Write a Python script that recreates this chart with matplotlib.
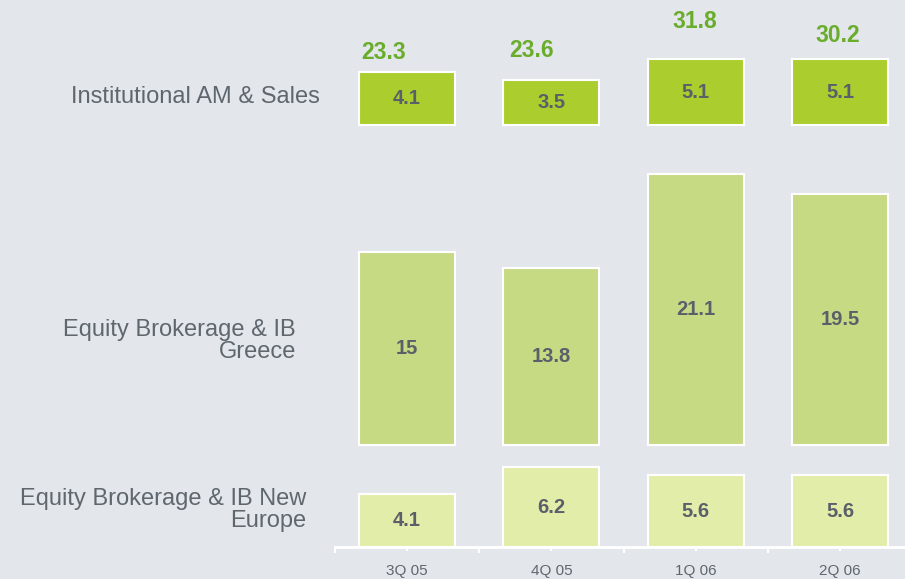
import matplotlib
matplotlib.use("Agg")
import matplotlib.pyplot as plt
import numpy as np

quarters = ["3Q 05", "4Q 05", "1Q 06", "2Q 06"]
inst_am_sales = [4.1, 3.5, 5.1, 5.1]
eq_greece = [15, 13.8, 21.1, 19.5]
eq_new_europe = [4.1, 6.2, 5.6, 5.6]
totals = [23.3, 23.6, 31.8, 30.2]
row_labels = ["Institutional AM & Sales", "Equity Brokerage & IB\nGreece",
              "Equity Brokerage & IB New\nEurope"]

BG = "#e3e6eb"
C_INST = "#abce2e"
C_GR = "#c6da84"
C_NE = "#e3edaa"
TXT_DARK = "#5b5f69"
TXT_ROW = "#5f676e"
GREEN = "#6aad2c"

W, H = 905, 579
fig = plt.figure(figsize=(W / 100, H / 100), dpi=100, facecolor=BG)
ax = fig.add_axes([335 / W, 32 / H, 1 - 335 / W, 1 - 32 / H])
ax.set_facecolor(BG)

px_per_unit = 12.85
base_ne = 0.0
base_gr = (547 - 445) / px_per_unit
base_inst = (547 - 125) / px_per_unit

x = np.arange(len(quarters))
bw = 0.665
font = ["Liberation Sans", "DejaVu Sans"]

rows = [(eq_new_europe, base_ne, C_NE), (eq_greece, base_gr, C_GR),
        (inst_am_sales, base_inst, C_INST)]
for vals, base, col in rows:
    bars = ax.bar(x, vals, bw, bottom=base, color=col, edgecolor="white",
                  linewidth=1.5, zorder=3)
    for b, v in zip(bars, vals):
        ax.text(b.get_x() + b.get_width() / 2, base + v / 2, f"{v:g}",
                ha="center", va="center", fontsize=14.5, fontweight="bold",
                color=TXT_DARK, family=font, zorder=4)

tot_off = [(-24, 20), (-20, 30), (-1, 38), (-2, 24)]
for xi, t, v, off in zip(x, totals, inst_am_sales, tot_off):
    ax.annotate(f"{t:g}", (xi, base_inst + v), xytext=off,
                textcoords="offset pixels", ha="center", va="center",
                fontsize=16.5, fontweight="bold", color=GREEN, family=font)

ax.set_xticks(x)
ax.set_xticklabels(quarters, fontsize=11, color=TXT_ROW, family=font)
ax.set_xticks(np.arange(-0.5, 4, 1), minor=True)
ax.tick_params(axis="x", which="major", length=3, width=1.5, color="white",
               pad=9)
ax.tick_params(axis="x", which="minor", length=4.3, width=1.5, color="white")
ax.set_xlim(-0.5, 3.45)
ax.set_ylim(0, 547 / px_per_unit)
ax.set_yticks([])
for s in ["top", "right", "left"]:
    ax.spines[s].set_visible(False)
ax.spines["bottom"].set_color("white")
ax.spines["bottom"].set_linewidth(2)

label_pos = [(320, 97), (296, 341), (306, 510)]
for lab, (lx, ly) in zip(row_labels, label_pos):
    fig.text(lx / W, 1 - ly / H, lab, ha="right", va="center", fontsize=17,
             color=TXT_ROW, family=font, multialignment="right",
             linespacing=0.95)

fig.savefig("out.png", dpi=100, facecolor=BG)
